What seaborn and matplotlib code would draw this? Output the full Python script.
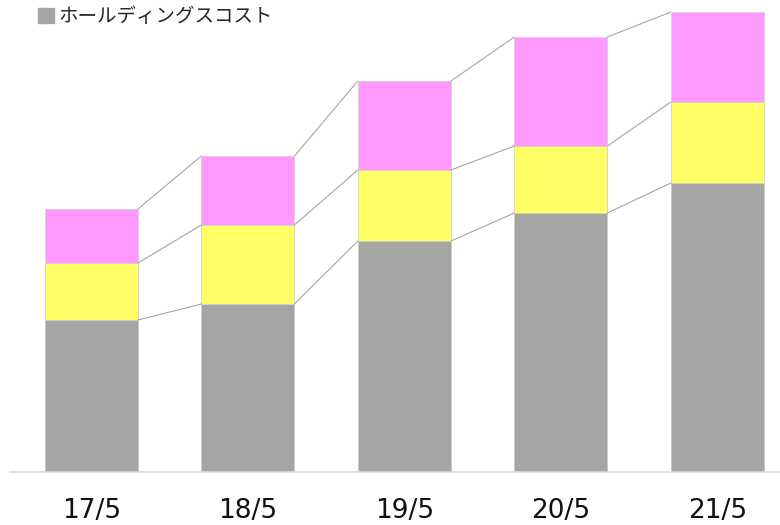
import matplotlib

matplotlib.use("Agg")
import matplotlib.pyplot as plt
import numpy as np
import pandas as pd
import seaborn as sns
from matplotlib.patches import Patch

# values (arbitrary units)
periods = ["17/5", "18/5", "19/5", "20/5", "21/5"]
holding = [152, 168, 231, 259, 289]
middle = [57, 79, 71, 67, 81]
top = [54, 69, 89, 109, 90]
legend_label = "ホールディングスコスト"

GRAY = "#a5a5a5"
YELLOW = "#ffff66"
PINK = "#ff99ff"
LINE = "#a6a6a6"
BAR_W = 0.595

sns.set_style("white")
plt.rcParams["font.family"] = ["Noto Sans CJK JP", "DejaVu Sans"]

c1 = np.array(holding)
c2 = c1 + np.array(middle)
c3 = c2 + np.array(top)
df = pd.DataFrame({"period": periods, "c1": c1, "c2": c2, "c3": c3})

fig = plt.figure(figsize=(7.8, 5.25), dpi=100)
ax = fig.add_axes([10 / 780, 53 / 525, 770 / 780, 472 / 525])

# stacked look: draw cumulative totals tallest first
for col, color in [("c3", PINK), ("c2", YELLOW), ("c1", GRAY)]:
    sns.barplot(data=df, x="period", y=col, color=color, width=BAR_W,
                saturation=1, edgecolor="#d0d0d0", linewidth=0.5, ax=ax)

# connector lines between bar tops
x = np.arange(len(periods))
for cum in (c1, c2, c3):
    for i in range(len(periods) - 1):
        ax.plot([x[i] + BAR_W / 2, x[i + 1] - BAR_W / 2], [cum[i], cum[i + 1]],
                color=LINE, lw=0.8, zorder=1)

ax.set_xlim(-0.52, 4.40)
ax.set_ylim(0, 472)
ax.set_xlabel("")
ax.set_ylabel("")
ax.set_yticks([])
sns.despine(ax=ax, left=True)
ax.spines["bottom"].set_color("#d9d9d9")
ax.spines["bottom"].set_linewidth(1.2)
ax.tick_params(axis="x", length=0, pad=19)
for lab in ax.get_xticklabels():
    lab.set_fontfamily("DejaVu Sans")
    lab.set_fontsize(19)
    lab.set_color("#111111")

fig.legend(handles=[Patch(color=GRAY)], labels=[legend_label],
           loc="center left", bbox_to_anchor=(38 / 780, 1 - 17 / 525),
           frameon=False, fontsize=14, handlelength=0.8, handleheight=0.8,
           handletextpad=0.25, borderpad=0, borderaxespad=0)

fig.savefig("out.png", dpi=100)
plt.close(fig)
